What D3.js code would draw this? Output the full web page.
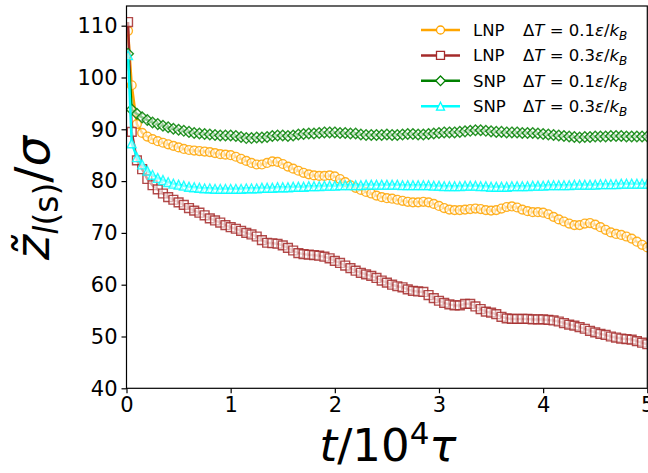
<html>
<head>
<meta charset="utf-8">
<script src="https://cdn.jsdelivr.net/npm/d3@7"></script>
<style>
  body { margin: 0; background: #fff; }
  text { font-family: "DejaVu Sans", sans-serif; }
</style>
</head>
<body>
<script>
// time axis (units of 10^4 tau), first sample just after 0
const times = [0.015].concat(d3.range(1, 101).map(i => +(i * 0.05).toFixed(2)))

const lnp01 = [109.0, 98.5, 91.0, 89.3, 88.6, 88.1, 87.7, 87.4, 87.1, 86.8, 86.5, 86.2, 86.0, 85.9, 85.8, 85.7, 85.6, 85.4, 85.2, 85.1,
  85.0, 84.7, 84.3, 83.9, 83.5, 83.2, 83.2, 83.5, 83.8, 83.7, 83.3, 82.8, 82.4, 82.0, 81.6, 81.3, 81.1, 81.0, 81.0, 81.1,
  80.9, 80.4, 79.8, 79.2, 78.7, 78.3, 77.9, 77.6, 77.2, 76.9, 76.7, 76.6, 76.4, 76.2, 76.0, 75.9, 75.9, 76.0, 75.9, 75.6,
  75.2, 74.8, 74.5, 74.4, 74.4, 74.5, 74.6, 74.7, 74.6, 74.4, 74.3, 74.4, 74.7, 75.0, 75.1, 74.9, 74.5, 74.2, 74.0, 74.0,
  73.9, 73.6, 73.1, 72.6, 72.2, 71.8, 71.5, 71.5, 71.8, 71.9, 71.6, 71.1, 70.6, 70.1, 69.8, 69.6, 69.3, 68.9, 68.3, 67.7, 67.2]

const lnp03 = [110.7, 89.5, 84.0, 82.3, 80.4, 79.2, 78.4, 77.6, 76.9, 76.4, 75.9, 75.4, 74.8, 74.3, 73.9, 73.4, 72.8, 72.4, 72.0, 71.5,
  71.1, 70.8, 70.4, 70.0, 69.7, 69.3, 68.6, 68.1, 68.0, 67.9, 67.6, 67.1, 66.6, 66.1, 65.9, 65.8, 65.7, 65.6, 65.4, 65.1,
  64.6, 64.2, 63.7, 63.2, 62.7, 62.3, 62.0, 61.7, 61.3, 60.8, 60.4, 60.0, 59.7, 59.5, 59.1, 58.8, 58.7, 58.6, 58.0, 57.4,
  56.9, 56.5, 56.2, 56.0, 56.0, 56.3, 56.3, 55.8, 55.3, 54.8, 54.6, 54.3, 53.8, 53.5, 53.4, 53.4, 53.4, 53.4, 53.3, 53.3,
  53.3, 53.2, 53.1, 52.9, 52.6, 52.3, 52.1, 51.8, 51.5, 51.1, 50.8, 50.5, 50.3, 50.0, 49.8, 49.6, 49.5, 49.4, 49.1, 48.8, 48.5]

const snp01 = [104.6, 93.8, 93.0, 92.3, 91.8, 91.3, 91.0, 90.7, 90.4, 90.1, 89.9, 89.7, 89.5, 89.3, 89.2, 89.1, 89.0, 88.9, 88.8, 88.8,
  88.8, 88.7, 88.5, 88.3, 88.3, 88.4, 88.4, 88.5, 88.7, 88.8, 88.8, 88.7, 88.8, 89.0, 89.1, 89.2, 89.2, 89.3, 89.4, 89.4,
  89.4, 89.3, 89.3, 89.2, 89.2, 89.0, 88.9, 88.9, 88.9, 88.9, 89.0, 88.9, 88.9, 89.0, 89.1, 89.1, 89.0, 89.0, 89.1, 89.2,
  89.3, 89.4, 89.4, 89.4, 89.5, 89.6, 89.7, 89.8, 89.8, 89.7, 89.6, 89.5, 89.5, 89.4, 89.4, 89.4, 89.3, 89.3, 89.3, 89.2,
  89.1, 89.0, 88.9, 88.8, 88.7, 88.6, 88.5, 88.4, 88.5, 88.5, 88.6, 88.6, 88.6, 88.7, 88.7, 88.7, 88.6, 88.6, 88.6, 88.6, 88.6]

const snp03 = [104.3, 87.3, 84.6, 83.2, 82.0, 81.2, 80.6, 80.2, 79.8, 79.5, 79.3, 79.1, 78.9, 78.8, 78.7, 78.6, 78.6, 78.5, 78.5, 78.5,
  78.5, 78.5, 78.5, 78.6, 78.6, 78.6, 78.7, 78.7, 78.7, 78.8, 78.8, 78.8, 78.9, 78.9, 78.9, 79.0, 79.0, 79.0, 79.1, 79.1,
  79.1, 79.2, 79.2, 79.2, 79.2, 79.2, 79.3, 79.3, 79.3, 79.3, 79.3, 79.3, 79.3, 79.2, 79.2, 79.2, 79.2, 79.2, 79.2, 79.1,
  79.1, 79.0, 79.0, 79.0, 79.0, 79.1, 79.1, 79.1, 79.0, 79.0, 78.9, 78.9, 78.9, 78.9, 79.0, 79.0, 79.0, 79.0, 79.1, 79.1,
  79.1, 79.2, 79.2, 79.2, 79.2, 79.2, 79.3, 79.3, 79.3, 79.3, 79.3, 79.4, 79.4, 79.4, 79.4, 79.5, 79.5, 79.5, 79.5, 79.5, 79.5]

const xTicks = [0, 1, 2, 3, 4, 5]
const yTicks = [40, 50, 60, 70, 80, 90, 100, 110]
const labels = ['LNP', 'LNP', 'SNP', 'SNP']
const deltaT = ['0.1', '0.3', '0.1', '0.3']

const series = [
  { name: labels[0], dt: deltaT[0], values: lnp01, color: 'orange', shape: 'circle' },
  { name: labels[1], dt: deltaT[1], values: lnp03, color: 'brown', shape: 'square' },
  { name: labels[2], dt: deltaT[2], values: snp01, color: 'green', shape: 'diamond' },
  { name: labels[3], dt: deltaT[3], values: snp03, color: 'cyan', shape: 'triangle' }
]

const W = 648, H = 473
const padL = 126.5, padR = 647.3, padT = 6, padB = 388.3

const x = d3.scaleLinear().domain([0, 5]).range([padL, padR])
const y = d3.scaleLinear().domain([40, 113.8]).range([padB, padT])

const svg = d3.select('body').append('svg')
  .attr('width', W)
  .attr('height', H)

svg.append('clipPath').attr('id', 'clip')
  .append('rect')
  .attr('x', padL).attr('y', padT)
  .attr('width', padR - padL).attr('height', padB - padT)

// marker path, matplotlib-like shapes centred on the point
function markerPath(shape, r) {
  if (shape === 'circle') {
    return `M${-r},0A${r},${r} 0 1,0 ${r},0A${r},${r} 0 1,0 ${-r},0Z`
  }
  if (shape === 'square') {
    return `M${-r},${-r}H${r}V${r}H${-r}Z`
  }
  if (shape === 'diamond') {
    const d = r * 1.2
    return `M0,${-d}L${d},0L0,${d}L${-d},0Z`
  }
  return `M0,${-r}L${r},${r}L${-r},${r}Z`
}

const plot = svg.append('g').attr('clip-path', 'url(#clip)')

const line = d3.line()
  .x((d, i) => x(times[i]))
  .y(d => y(d))

series.forEach(s => {
  const g = plot.append('g')
  g.append('path')
    .datum(s.values)
    .attr('d', line)
    .attr('fill', 'none')
    .attr('stroke', s.color)
    .attr('stroke-width', 2.5)
  g.selectAll('path.m')
    .data(s.values)
    .enter()
    .append('path')
    .attr('class', 'm')
    .attr('d', markerPath(s.shape, 4.4))
    .attr('transform', (d, i) => 'translate(' + x(times[i]) + ',' + y(d) + ')')
    .attr('fill', 'white')
    .attr('fill-opacity', 0.55)
    .attr('stroke', s.color)
    .attr('stroke-opacity', 0.85)
    .attr('stroke-width', 1.4)
})

// frame
svg.append('rect')
  .attr('x', padL).attr('y', padT)
  .attr('width', padR - padL).attr('height', padB - padT)
  .attr('fill', 'none')
  .attr('stroke', 'black')
  .attr('stroke-width', 1.2)

// axes
const xAxis = svg.append('g')
  .attr('transform', 'translate(0,' + padB + ')')
  .call(d3.axisBottom(x).tickValues(xTicks).tickFormat(d3.format('d')).tickSize(5).tickPadding(4))
const yAxis = svg.append('g')
  .attr('transform', 'translate(' + padL + ',0)')
  .call(d3.axisLeft(y).tickValues(yTicks).tickFormat(d3.format('d')).tickSize(5).tickPadding(4))

;[xAxis, yAxis].forEach(a => {
  a.select('.domain').remove()
  a.selectAll('line').attr('stroke', 'black').attr('stroke-width', 1.2)
  a.selectAll('text')
    .attr('fill', 'black')
    .style('font-family', '"DejaVu Sans", sans-serif')
    .style('font-size', '21px')
})

// axis titles
const xt = svg.append('text')
  .attr('x', 388)
  .attr('y', 461)
  .attr('text-anchor', 'middle')
  .style('font-size', '45px')
xt.append('tspan').style('font-style', 'italic').text('t')
xt.append('tspan').text('/10')
xt.append('tspan').attr('dy', -17).style('font-size', '31px').text('4')
xt.append('tspan').attr('dy', 17).style('font-style', 'italic').text('τ')

const yt = svg.append('text')
  .attr('transform', 'translate(49,198) rotate(-90)')
  .attr('text-anchor', 'middle')
  .style('font-size', '48px')
yt.append('tspan').style('font-style', 'italic').text('z̃')
yt.append('tspan').attr('dy', 9).style('font-size', '33px').style('font-style', 'italic').text('l')
yt.append('tspan').style('font-size', '33px').text('(s)')
yt.append('tspan').attr('dy', -9).text('/')
yt.append('tspan').style('font-style', 'italic').text('σ')

// legend
const legend = svg.append('g')
series.forEach((s, i) => {
  const cy = 30 + i * 25.4
  legend.append('line')
    .attr('x1', 421).attr('x2', 460)
    .attr('y1', cy).attr('y2', cy)
    .attr('stroke', s.color)
    .attr('stroke-width', 2.5)
  legend.append('path')
    .attr('d', markerPath(s.shape, 4))
    .attr('transform', 'translate(440.5,' + cy + ')')
    .attr('fill', 'white')
    .attr('stroke', s.color)
    .attr('stroke-width', 1.3)
  legend.append('text')
    .attr('x', 473).attr('y', cy + 6)
    .style('font-size', '16.5px')
    .text(s.name)
  const t = legend.append('text')
    .attr('x', 523).attr('y', cy + 6)
    .style('font-size', '16.5px')
  t.append('tspan').text('Δ')
  t.append('tspan').style('font-style', 'italic').text('T')
  t.append('tspan').text(' = ' + s.dt)
  t.append('tspan').style('font-style', 'italic').text('ε')
  t.append('tspan').text('/')
  t.append('tspan').style('font-style', 'italic').text('k')
  t.append('tspan').attr('dy', 4).style('font-size', '12px').style('font-style', 'italic').text('B')
})
</script>
</body>
</html>
